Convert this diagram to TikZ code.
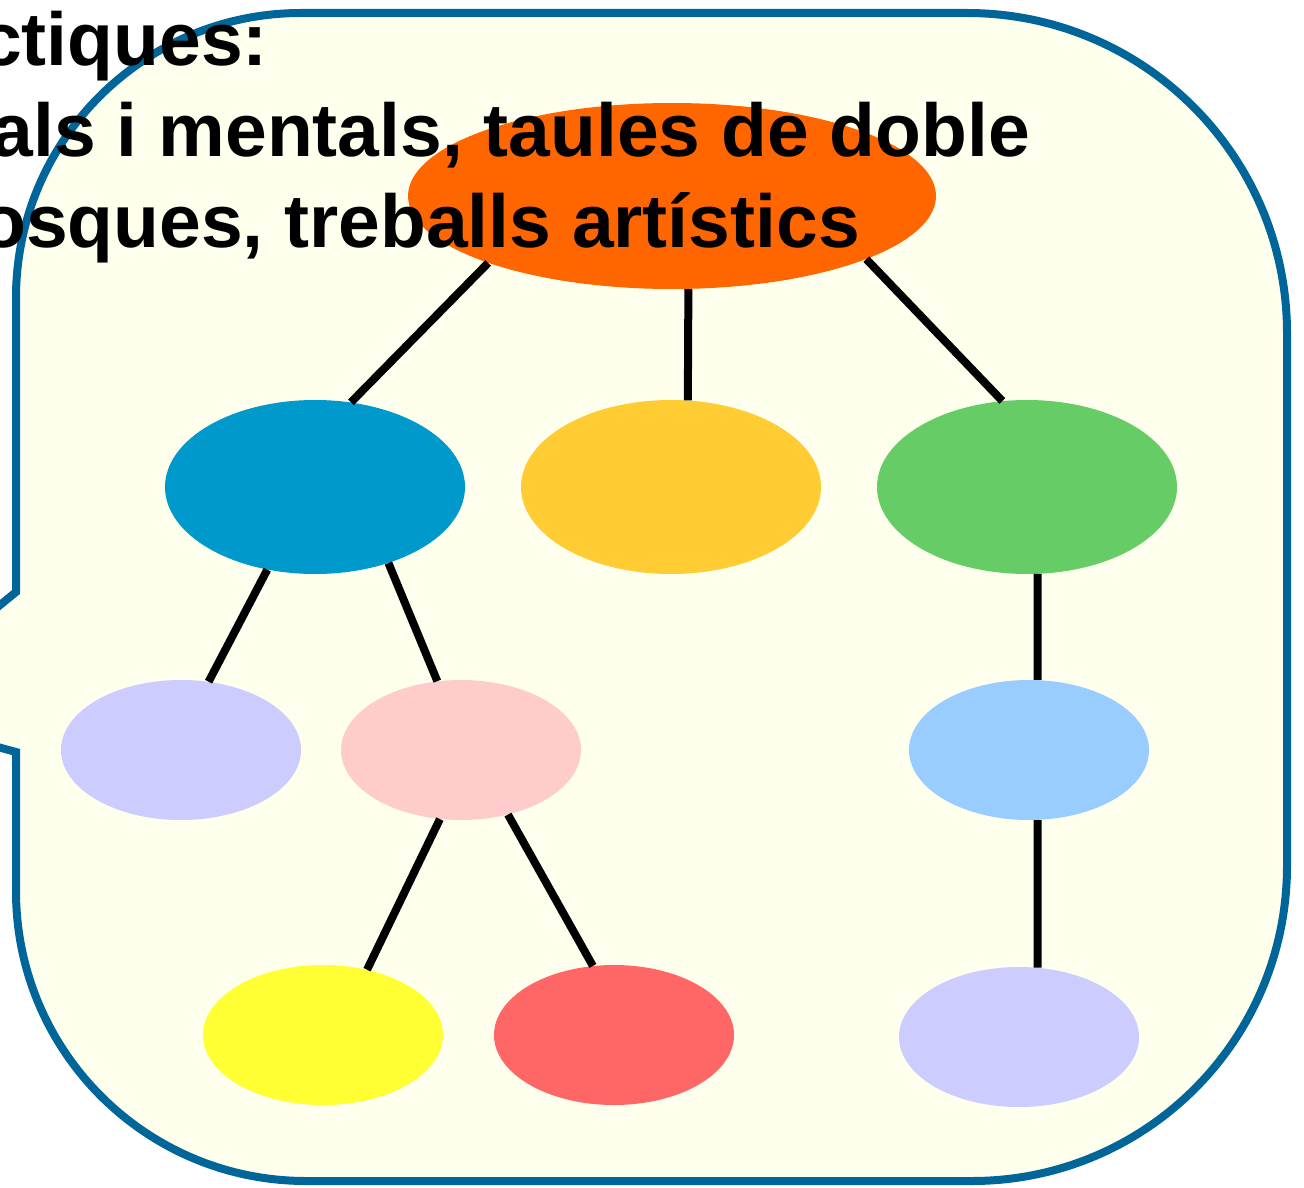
\documentclass[tikz,border=0pt]{standalone}
\usepackage{fontspec}
\setmainfont{Liberation Sans}
\usepackage{tikz}
\usetikzlibrary{shapes.geometric}
\definecolor{framec}{HTML}{006699}
\definecolor{paperc}{HTML}{FFFFEE}
\definecolor{orangec}{HTML}{FF6600}
\definecolor{bluec}{HTML}{0099CC}
\definecolor{goldc}{HTML}{FFCC33}
\definecolor{greenc}{HTML}{66CC66}
\definecolor{lilacc}{HTML}{CCCCFF}
\definecolor{pinkc}{HTML}{FFCCCC}
\definecolor{skyc}{HTML}{99CCFF}
\definecolor{lemonc}{HTML}{FFFF33}
\definecolor{redc}{HTML}{FF6666}

\begin{document}
\begin{tikzpicture}[x=1pt,y=-1pt,
  bubble/.style={ellipse,draw=none,inner sep=0pt},
  bigbubble/.style={bubble,minimum width=300pt,minimum height=174pt},
  smallbubble/.style={bubble,minimum width=240pt,minimum height=140pt},
  link/.style={black,line width=8pt},
  txt/.style={anchor=base east,inner sep=0pt,font=\fontsize{75}{90}\selectfont\bfseries}]
\useasboundingbox (0,0) rectangle (1304,1188);
% frame with the notch on the left
\draw[framec,fill=paperc,line width=8pt]
  (301,13) -- (967,13) arc[start angle=-90,end angle=0,radius=320]
  -- (1287,866) arc[start angle=0,end angle=90,radius=315]
  -- (306,1181) arc[start angle=90,end angle=180,radius=290]
  -- (16,752) -- (-6,746) -- (-6,610) -- (16,592)
  -- (16,298) arc[start angle=180,end angle=270,radius=285] -- cycle;

\node[bubble,fill=orangec,minimum width=528pt,minimum height=186pt] (top) at (672,196) {};
\node[bigbubble,fill=bluec] (left) at (315,487) {};
\node[bigbubble,fill=goldc] (mid) at (671,487) {};
\node[bigbubble,fill=greenc] (right) at (1027,487) {};
\node[smallbubble,fill=lilacc] (leftA) at (181,750) {};
\node[smallbubble,fill=pinkc] (leftB) at (461,750) {};
\node[smallbubble,fill=skyc] (rightA) at (1029,750) {};
\node[smallbubble,fill=lemonc] (leafA) at (323,1035) {};
\node[smallbubble,fill=redc] (leafB) at (614,1035) {};
\node[smallbubble,fill=lilacc] (leafC) at (1019,1037) {};

\draw[link] (top.-160.4) -- (left.67.4);
\draw[link] (top.-80.6) -- (mid.79.2);
\draw[link] (top.-18.6) -- (right.106.6);
\draw[link] (left.-120.4) -- (leftA.68.3);
\draw[link] (left.-46.5) -- (leftB.109.4);
\draw[link] (right.-83.3) -- (rightA.83.3);
\draw[link] (leftB.-107.4) -- (leafA.56.7);
\draw[link] (leftB.-54.7) -- (leafB.107.9);
\draw[link] (rightA.-83.2) -- (leafC.75);

\node[txt] (line1) at (268,66) {ctiques:};
\node[txt] (line2) at (1030,157) {als i mentals, taules de doble};
\node[txt] (line3) at (860,247) {osques, treballs artístics};
\end{tikzpicture}
\end{document}
